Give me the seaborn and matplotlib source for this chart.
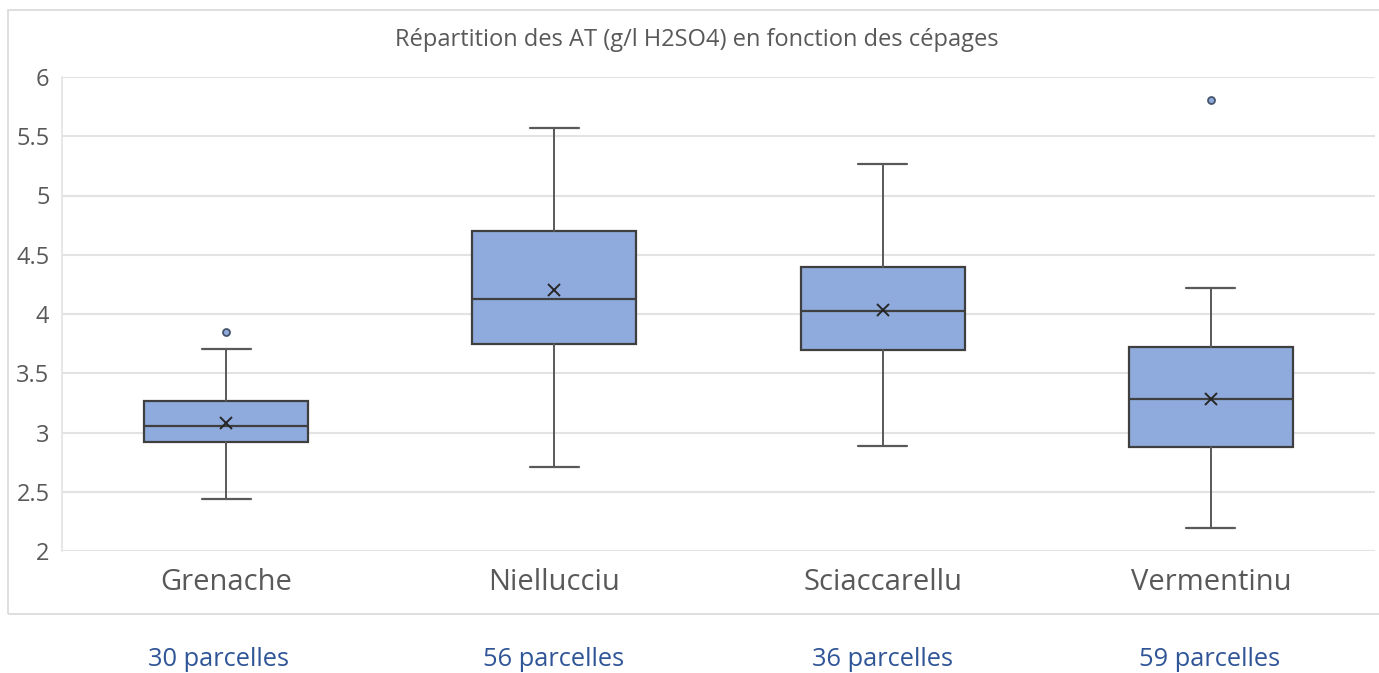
import matplotlib.pyplot as plt
import seaborn as sns
from matplotlib.patches import Rectangle

# summary stats
cepages = ["Grenache", "Niellucciu", "Sciaccarellu", "Vermentinu"]
parcelles = ["30 parcelles", "56 parcelles", "36 parcelles", "59 parcelles"]
whisker_low = [2.44, 2.71, 2.89, 2.19]
q1 = [2.92, 3.75, 3.70, 2.88]
median = [3.055, 4.125, 4.025, 3.28]
q3 = [3.265, 4.70, 4.395, 3.72]
whisker_high = [3.705, 5.57, 5.265, 4.22]
mean = [3.08, 4.20, 4.03, 3.28]
outliers = [[3.85], [], [], [5.81]]

sns.set_theme(style="whitegrid")
plt.rcParams["font.family"] = ["Open Sans", "DejaVu Sans"]

fig = plt.figure(figsize=(13.79, 6.73), dpi=100)
ax = fig.add_axes([62 / 1379, 1 - 551 / 673, 1313 / 1379, 474 / 673])

stats = []
for i, name in enumerate(cepages):
    stats.append({
        "label": name,
        "whislo": whisker_low[i],
        "q1": q1[i],
        "med": median[i],
        "q3": q3[i],
        "whishi": whisker_high[i],
        "mean": mean[i],
        "fliers": outliers[i],
    })

ax.bxp(
    stats,
    positions=range(len(cepages)),
    widths=0.5,
    patch_artist=True,
    showmeans=True,
    boxprops=dict(facecolor="#8FAADC", edgecolor="#3F3F3F", linewidth=1.6),
    medianprops=dict(color="#3F3F3F", linewidth=1.6),
    whiskerprops=dict(color="#595959", linewidth=1.4),
    capprops=dict(color="#595959", linewidth=1.6),
    capwidths=0.15,
    meanprops=dict(marker="x", markeredgecolor="#262626", markersize=9, markeredgewidth=1.4),
    flierprops=dict(marker="o", markerfacecolor="#8FAADC", markeredgecolor="#44546A",
                    markersize=5, markeredgewidth=1.3),
)

ax.set_xlim(-0.5, 3.5)
ax.set_ylim(2, 6)
ax.set_yticks([2, 2.5, 3, 3.5, 4, 4.5, 5, 5.5, 6])
ax.set_yticklabels(["2", "2.5", "3", "3.5", "4", "4.5", "5", "5.5", "6"])
ax.set_xticks(range(len(cepages)))
ax.set_xticklabels(cepages)
ax.grid(axis="y", color="#E3E3E3", linewidth=1.5)
ax.grid(axis="x", visible=False)
for s in ax.spines.values():
    s.set_visible(False)
ax.spines["left"].set_visible(True)
ax.spines["left"].set_color("#E3E3E3")
ax.spines["left"].set_linewidth(1.2)
ax.tick_params(axis="y", labelsize=17, labelcolor="#595959", pad=9, length=0)
ax.tick_params(axis="x", labelsize=21, labelcolor="#595959", pad=12, length=0)

fig.text(697 / 1379, 1 - 40 / 673, "Répartition des AT (g/l H2SO4) en fonction des cépages",
         ha="center", va="center", fontsize=17, color="#595959")

# chart area frame
fig.patches.append(Rectangle((8 / 1379, 1 - 614 / 673), 1.0, 604 / 673,
                             transform=fig.transFigure, fill=False,
                             edgecolor="#D9D9D9", linewidth=1.2))

for i, lab in enumerate(parcelles):
    x_fig = (62 + (i + 0.5) * 328) / 1379
    fig.text(x_fig - 8 / 1379 if i == 0 else x_fig, 1 - 659 / 673, lab,
             ha="center", va="center", fontsize=18.3, color="#2F5597")

fig.savefig("out.png", dpi=100)
